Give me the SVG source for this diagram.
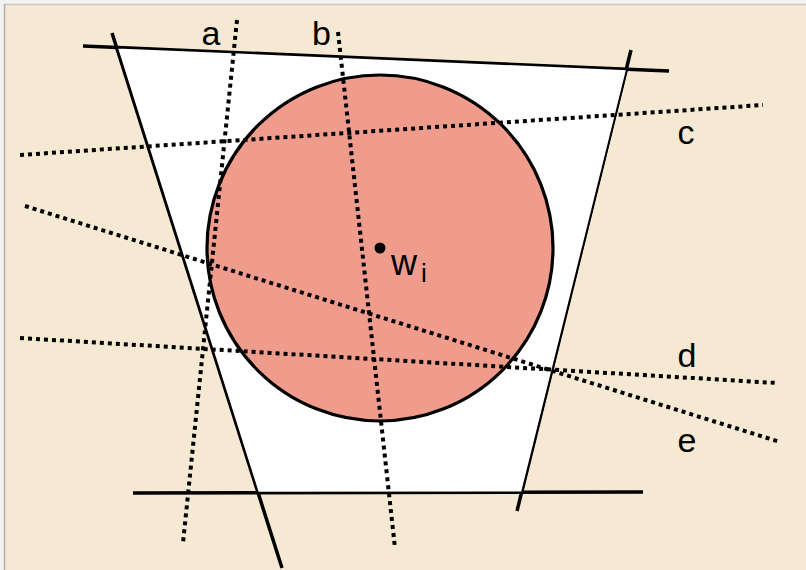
<svg xmlns="http://www.w3.org/2000/svg" width="806" height="570" viewBox="0 0 806 570">
<style>
.bound{stroke:#000;stroke-width:3.5;fill:none;stroke-linecap:butt}
.dot{stroke:#000;stroke-width:4;stroke-dasharray:4 4;fill:none}
.lbl{font-family:"Liberation Sans",Arial,sans-serif;font-size:34px;fill:#000}
</style>
<rect x="0" y="0" width="806" height="570" fill="#f2f2f2"/>
<rect x="5" y="5" width="801" height="565" fill="#f5e9d4"/>
<line x1="4" y1="4.5" x2="806" y2="4.5" stroke="#c8c8c8" stroke-width="1.5"/>
<line x1="4.5" y1="4" x2="4.5" y2="570" stroke="#b8b0a8" stroke-width="1.5"/>
<g id="boundaries">
<line class="bound" x1="83" y1="46" x2="669" y2="71"/>
<line class="bound" x1="112" y1="33" x2="282" y2="568"/>
<line class="bound" x1="631" y1="50" x2="517" y2="511"/>
<line class="bound" x1="133" y1="493" x2="643" y2="492"/>
</g>
<g id="region">
<polygon points="117,47.5 627,69.3 522,492.3 258,492.7" fill="#fff" stroke="#000" stroke-width="1.8" stroke-linejoin="miter"/>
</g>
<g id="ball">
<circle cx="380" cy="248" r="173" fill="#ef9c8d" stroke="#000" stroke-width="3.2"/>
</g>
<g id="connectors">
<line class="dot" x1="237" y1="20" x2="183" y2="543"/>
<line class="dot" x1="338" y1="32" x2="395" y2="548"/>
<line class="dot" x1="20" y1="155" x2="763" y2="105"/>
<line class="dot" x1="20" y1="338" x2="777" y2="383"/>
<line class="dot" x1="25" y1="206" x2="780" y2="442"/>
</g>
<g id="center">
<circle cx="380" cy="248" r="5.5" fill="#000"/>
<text class="lbl" x="391" y="275" style="font-size:36px">w</text>
<text class="lbl" x="421" y="282" style="font-size:26px">i</text>
</g>
<g id="labels">
<text class="lbl" x="201.5" y="45">a</text>
<text class="lbl" x="312" y="45">b</text>
<text class="lbl" x="677.5" y="144">c</text>
<text class="lbl" x="677.5" y="367">d</text>
<text class="lbl" x="677.5" y="452">e</text>
</g>
</svg>
